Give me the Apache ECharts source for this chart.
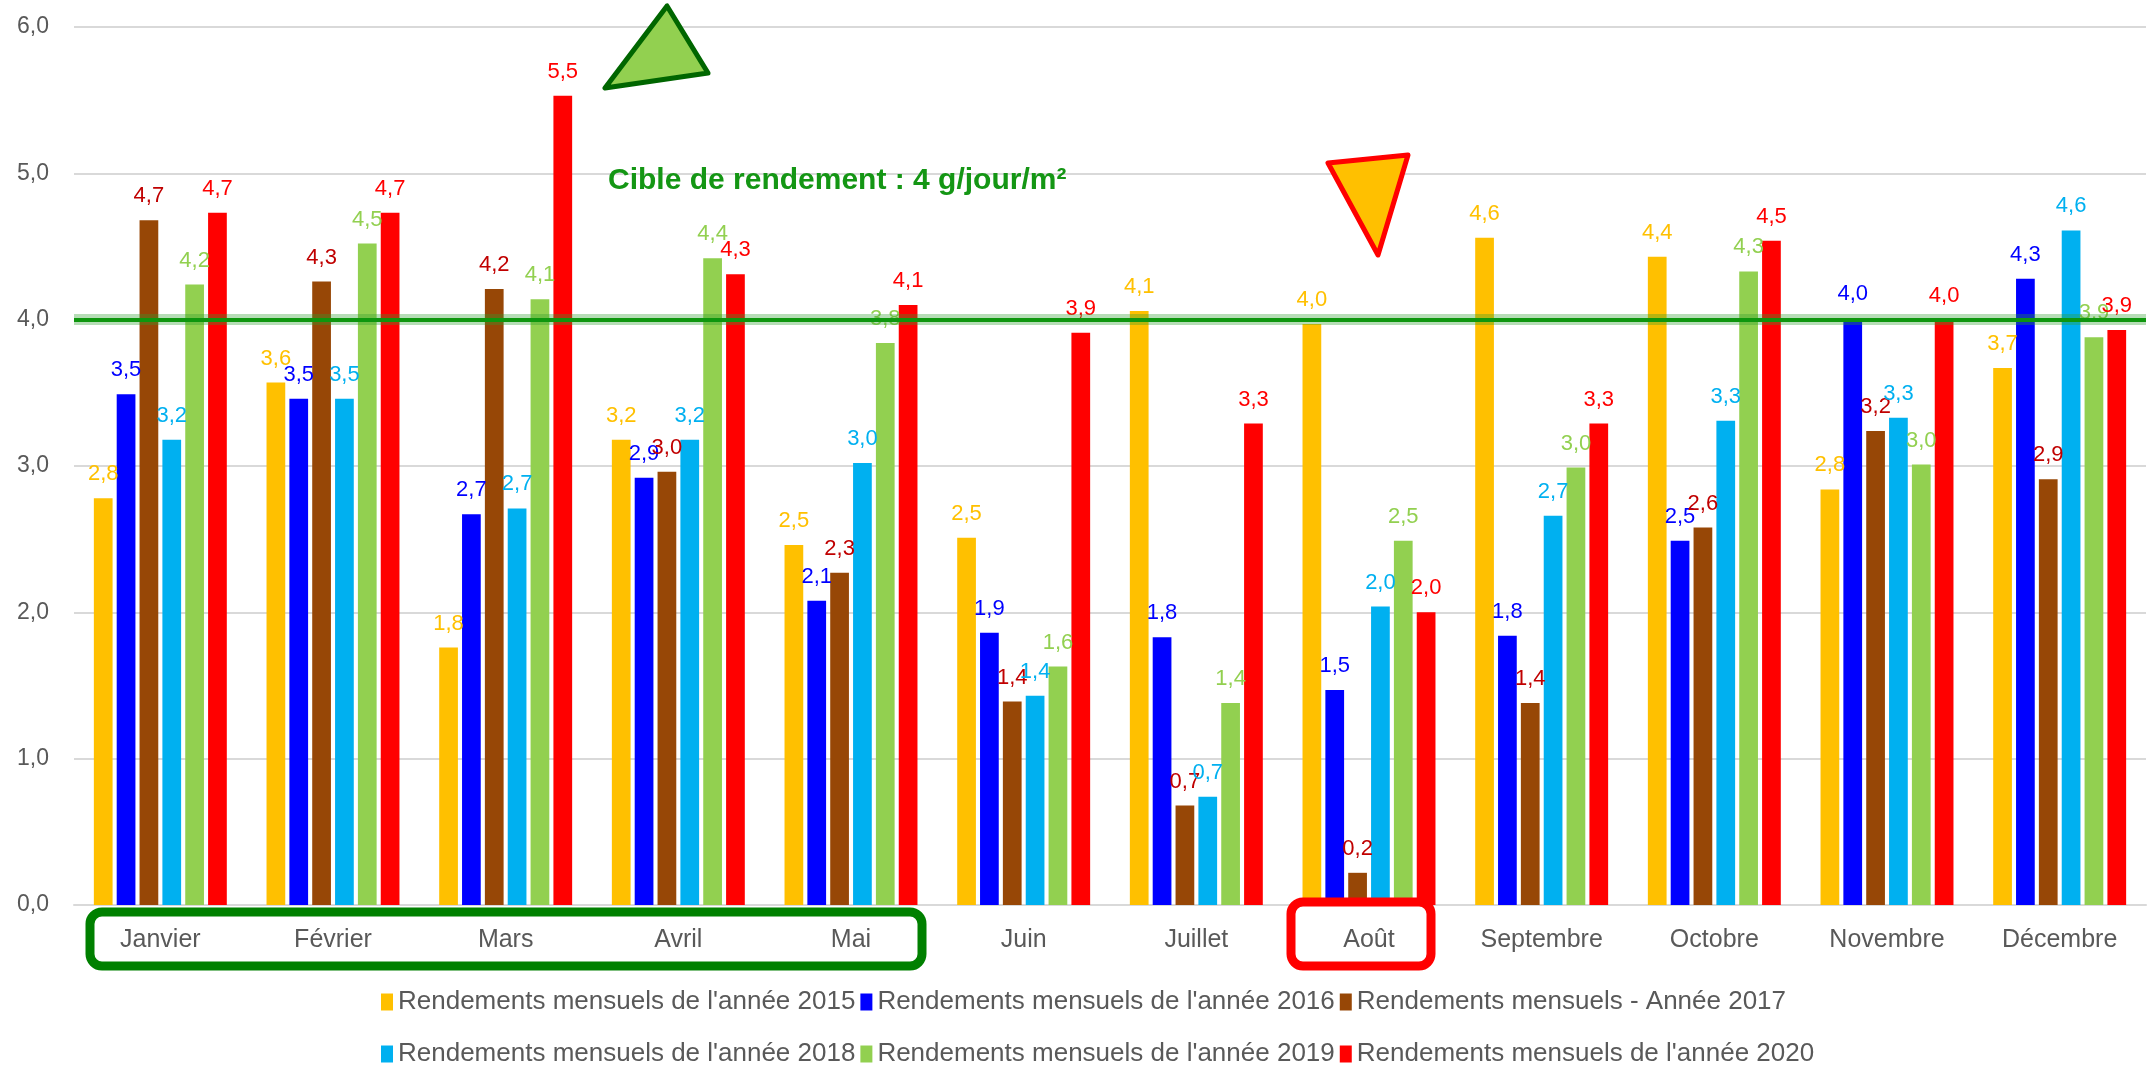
<!DOCTYPE html>
<html>
<head>
<meta charset="utf-8">
<title>Rendements mensuels</title>
<script src="https://cdn.jsdelivr.net/npm/echarts@6/dist/echarts.min.js"></script>
<style>
  html, body { margin: 0; padding: 0; background: #fff; }
  #main { width: 2156px; height: 1067px; }
</style>
</head>
<body>
<div id="main"></div>
<script>
// mois
var months = ["Janvier", "Février", "Mars", "Avril", "Mai", "Juin", "Juillet", "Août", "Septembre", "Octobre", "Novembre", "Décembre"];

// rendements (g/jour/m²)
var rend2015 = [2.78, 3.57, 1.76, 3.18, 2.46, 2.51, 4.06, 3.97, 4.56, 4.43, 2.84, 3.67];
var rend2016 = [3.49, 3.46, 2.67, 2.92, 2.08, 1.86, 1.83, 1.47, 1.84, 2.49, 4.01, 4.28];
var rend2017 = [4.68, 4.26, 4.21, 2.96, 2.27, 1.39, 0.68, 0.22, 1.38, 2.58, 3.24, 2.91];
var rend2018 = [3.18, 3.46, 2.71, 3.18, 3.02, 1.43, 0.74, 2.04, 2.66, 3.31, 3.33, 4.61];
var rend2019 = [4.24, 4.52, 4.14, 4.42, 3.84, 1.63, 1.38, 2.49, 2.99, 4.33, 3.01, 3.88];
var rend2020 = [4.73, 4.73, 5.53, 4.31, 4.1, 3.91, 3.29, 2.0, 3.29, 4.54, 4.0, 3.93];

var seriesNames = [
  "Rendements mensuels de l'année 2015",
  "Rendements mensuels de l'année 2016",
  "Rendements mensuels - Année 2017",
  "Rendements mensuels de l'année 2018",
  "Rendements mensuels de l'année 2019",
  "Rendements mensuels de l'année 2020"
];
var cible = 4;

var couleurs = ["#FFC000", "#0000FF", "#974706", "#00B0F0", "#92D050", "#FF0000"];
var couleursLabels = ["#FFC000", "#0000FF", "#C00000", "#00B0F0", "#92D050", "#FF0000"];
var allData = [rend2015, rend2016, rend2017, rend2018, rend2019, rend2020];

var font = "'Liberation Sans', Arial, sans-serif";

function virgule(v) {
  return v.toFixed(1).replace(".", ",");
}

var chart = echarts.init(document.getElementById("main"));

var series = allData.map(function (d, i) {
  var s = {
    name: seriesNames[i],
    type: "bar",
    data: d,
    itemStyle: { color: couleurs[i] },
    barGap: "22%",
    barCategoryGap: "23%",
    label: {
      show: true,
      position: "top",
      distance: 13,
      color: couleursLabels[i],
      fontFamily: font,
      fontSize: 22,
      formatter: function (p) { return virgule(p.value); }
    }
  };
  if (i === 0) {
    // ligne de la cible de rendement
    s.markLine = {
      silent: true,
      symbol: "none",
      label: { show: false },
      data: [
        { yAxis: cible, lineStyle: { color: "#2E9E2E", width: 11, opacity: 0.35, type: "solid" } },
        { yAxis: cible, lineStyle: { color: "#0E960E", width: 4, type: "solid" } }
      ]
    };
  }
  return s;
});

var legendBase = {
  left: 376,
  icon: "rect",
  itemWidth: 12,
  itemHeight: 17,
  itemGap: 5,
  selectedMode: false,
  textStyle: { color: "#595959", fontFamily: font, fontSize: 26 }
};

chart.setOption({
  animation: false,
  backgroundColor: "#fff",
  grid: { left: 74, right: 10, top: 27, bottom: 162 },
  legend: [
    Object.assign({}, legendBase, { top: 984, data: seriesNames.slice(0, 3) }),
    Object.assign({}, legendBase, { top: 1036, data: seriesNames.slice(3) })
  ],
  xAxis: {
    type: "category",
    data: months,
    axisLine: { lineStyle: { color: "#D9D9D9", width: 2 } },
    axisTick: { show: false },
    axisLabel: { color: "#595959", fontFamily: font, fontSize: 25, margin: 23 }
  },
  yAxis: {
    type: "value",
    min: 0,
    max: 6,
    interval: 1,
    axisLine: { show: false },
    axisTick: { show: false },
    splitLine: { lineStyle: { color: "#D9D9D9", width: 2 } },
    axisLabel: {
      color: "#595959", fontFamily: font, fontSize: 23, margin: 25,
      formatter: function (v) { return virgule(v); }
    }
  },
  series: series,
  graphic: [
    {
      type: "text", left: 608, top: 166, z: 10,
      style: { text: "Cible de rendement : 4 g/jour/m²", fill: "#149614", font: "bold 30px " + font }
    },
    {
      type: "polygon", z: 10,
      shape: { points: [[667, 6], [605, 88], [708, 73]] },
      style: { fill: "#92D050", stroke: "#006600", lineWidth: 5, lineJoin: "round" }
    },
    {
      type: "polygon", z: 10,
      shape: { points: [[1328, 163], [1408, 155], [1378, 255]] },
      style: { fill: "#FFC000", stroke: "#FF0000", lineWidth: 5, lineJoin: "round" }
    },
    {
      type: "rect", z: 10,
      shape: { x: 90, y: 912, width: 832, height: 54, r: 12 },
      style: { fill: "none", stroke: "#008000", lineWidth: 9 }
    },
    {
      type: "rect", z: 10,
      shape: { x: 1291, y: 902, width: 140, height: 64, r: 12 },
      style: { fill: "none", stroke: "#FF0000", lineWidth: 9 }
    }
  ]
});
</script>
</body>
</html>
